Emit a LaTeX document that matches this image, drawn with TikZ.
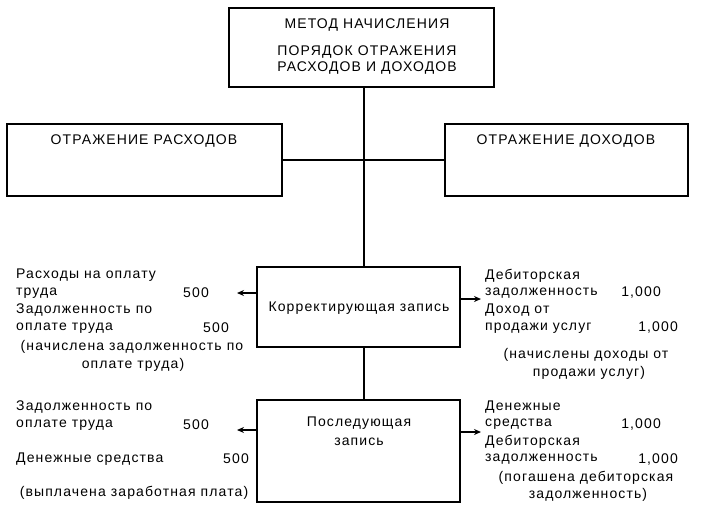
\documentclass[tikz,border=0pt]{standalone}
\usepackage{fontspec}
\newfontfamily\lsf{Liberation Sans}[LetterSpace=8]
\usetikzlibrary{arrows.meta}
\tikzset{
  boxn/.style={draw, line width=1.2pt, inner sep=0pt},
  lbl/.style={font=\lsf\fontsize{14}{16}\selectfont, inner sep=0pt},
  lw/.style={lbl, anchor=west},
  le/.style={lbl, anchor=east},
  conn/.style={line width=1.2pt},
  arr/.style={line width=1.2pt, -{Stealth[length=7pt,width=6pt]}}
}
\begin{document}
\begin{tikzpicture}[x=1pt,y=-1pt]
\useasboundingbox (0,0) rectangle (706,517);
% boxes
\node[boxn, minimum width=265pt, minimum height=79pt] (T) at (361.5,47.5) {};
\node[boxn, minimum width=275pt, minimum height=72pt] (L) at (144.5,160) {};
\node[boxn, minimum width=243pt, minimum height=72pt] (R) at (566.5,160) {};
\node[boxn, minimum width=203pt, minimum height=80pt] (K) at (358.5,307) {};
\node[boxn, minimum width=203pt, minimum height=102pt] (P) at (358.5,451) {};
% box texts
\node[lbl] (t1) at (367,25) {МЕТОД НАЧИСЛЕНИЯ};
\node[lbl] (t2) at (367,52) {ПОРЯДОК ОТРАЖЕНИЯ};
\node[lbl] (t3) at (367,68) {РАСХОДОВ И ДОХОДОВ};
\node[lbl] (lt) at (144,141) {ОТРАЖЕНИЕ РАСХОДОВ};
\node[lbl] (rt) at (566,141) {ОТРАЖЕНИЕ ДОХОДОВ};
\node[lbl] (kt) at (359,308) {Корректирующая запись};
\node[lbl] (pt1) at (359,423) {Последующая};
\node[lbl] (pt2) at (359,442) {запись};
% connectors
\coordinate (vx) at (364,0);
\draw[conn] (T.south -| vx) -- (K.north -| vx);
\draw[conn] (K.south -| vx) -- (P.north -| vx);
\draw[conn] (L.east) -- (R.west);
\coordinate (a1) at (237,293);
\coordinate (a2) at (481,299);
\coordinate (a3) at (237,430);
\coordinate (a4) at (481,432);
\draw[arr] (K.west |- a1) -- (a1);
\draw[arr] (K.east |- a2) -- (a2);
\draw[arr] (P.west |- a3) -- (a3);
\draw[arr] (P.east |- a4) -- (a4);
% left top
\node[lw] (l1) at (16,275) {Расходы на оплату};
\node[lw] (l2) at (16,293) {труда};
\node[le] (l2n) at (209,293) {500};
\node[lw] (l3) at (16,310) {Задолженность по};
\node[lw] (l4) at (16,328) {оплате труда};
\node[le] (l4n) at (229,328) {500};
\node[lbl] (l5) at (132,347) {(начислена задолженность по};
\node[lbl] (l6) at (133,365) {оплате труда)};
% right top
\node[lw] (r1) at (485,276) {Дебиторская};
\node[lw] (r2) at (485,293) {задолженность};
\node[le] (r2n) at (661,293) {1,000};
\node[lw] (r3) at (485,310) {Доход от};
\node[lw] (r4) at (485,328) {продажи услуг};
\node[le] (r4n) at (678,328) {1,000};
\node[lbl] (r5) at (586,355) {(начислены доходы от};
\node[lbl] (r6) at (589,373) {продажи услуг)};
% left bottom
\node[lw] (b1) at (16,407) {Задолженность по};
\node[lw] (b2) at (16,425) {оплате труда};
\node[le] (b2n) at (209,425) {500};
\node[lw] (b3) at (16,459) {Денежные средства};
\node[le] (b3n) at (249,459) {500};
\node[lbl] (b4) at (134,493) {(выплачена заработная плата)};
% right bottom
\node[lw] (c1) at (485,407) {Денежные};
\node[lw] (c2) at (485,424) {средства};
\node[le] (c2n) at (661,424) {1,000};
\node[lw] (c3) at (485,442) {Дебиторская};
\node[lw] (c4) at (485,459) {задолженность};
\node[le] (c4n) at (678,459) {1,000};
\node[lbl] (c5) at (586,478) {(погашена дебиторская};
\node[lbl] (c6) at (588,495) {задолженность)};
\end{tikzpicture}
\end{document}
